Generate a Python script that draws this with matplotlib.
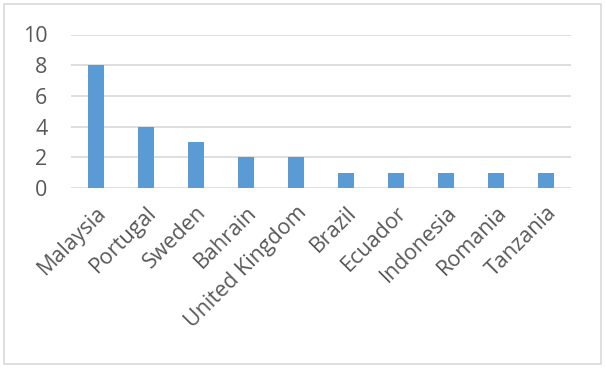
import matplotlib.pyplot as plt
from matplotlib.patches import Rectangle

countries = ["Malaysia", "Portugal", "Sweden", "Bahrain", "United Kingdom",
             "Brazil", "Ecuador", "Indonesia", "Romania", "Tanzania"]
counts = [8, 4, 3, 2, 2, 1, 1, 1, 1, 1]
y_ticks = [0, 2, 4, 6, 8, 10]

plt.rcParams["font.family"] = ["Open Sans", "DejaVu Sans"]
text_color = "#595959"

fig = plt.figure(figsize=(6.06, 3.68), dpi=100)
# chart border
fig.patches.append(Rectangle((4 / 606, 4 / 368), 597 / 606, 360 / 368,
                             transform=fig.transFigure, fill=False,
                             edgecolor="#D9D9D9", linewidth=1.2))

ax = fig.add_axes([71 / 606, 180 / 368, 500 / 606, 153.5 / 368])
x = range(len(countries))
ax.bar(x, counts, width=0.32, color="#5B9BD5", zorder=3)

ax.set_xlim(-0.5, len(countries) - 0.5)
ax.set_ylim(0, 10)
ax.set_yticks(y_ticks)
ax.set_yticklabels([str(v) for v in y_ticks], fontsize=15.5, color=text_color)
ax.set_xticks(list(x))
ax.set_xticklabels(countries, rotation=45, ha="right", rotation_mode="anchor",
                   fontsize=15.5, color=text_color)
ax.tick_params(axis="both", length=0)
ax.tick_params(axis="y", pad=17)
ax.tick_params(axis="x", pad=10)

ax.grid(axis="y", color="#D9D9D9", linewidth=1.2, zorder=0)
ax.grid(axis="x", visible=False)
for s in ax.spines.values():
    s.set_visible(False)

fig.savefig("out.png", dpi=100)
